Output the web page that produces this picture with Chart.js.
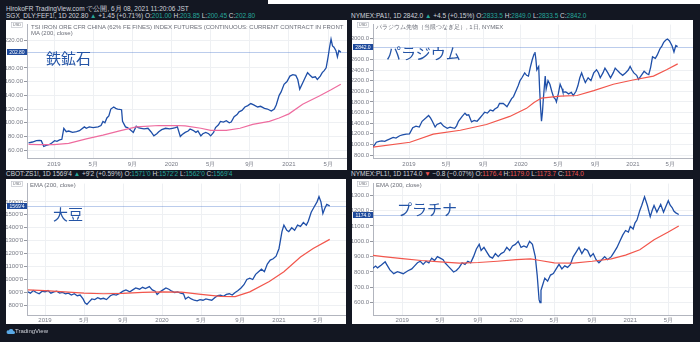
<!DOCTYPE html>
<html>
<head>
<meta charset="utf-8">
<script src="https://cdn.jsdelivr.net/npm/chart.js@4"></script>
<style>
body { margin: 0; width: 700px; height: 342px; overflow: hidden; position: relative; background: #131722; font-family: 'Liberation Sans', Arial, sans-serif; }
.hdr { position: absolute; color: #d1d4dc; font-size: 6.5px; line-height: 7px; white-space: nowrap; }
.up { color: #26a69a; }
.dn { color: #ef5350; }
.panel { position: absolute; background: #fff; overflow: hidden; }
.panel canvas { position: absolute; left: 0; top: 0; }
.leg { position: absolute; color: #6b6e78; font-size: 6px; line-height: 6px; white-space: nowrap; }
.big { position: absolute; color: #2454a6; font-size: 15px; line-height: 15px; font-family: 'Noto Sans CJK JP', sans-serif; white-space: nowrap; }
</style>
</head>
<body>
<div style="position:absolute;left:268px;top:0;width:432px;height:4px;background:#fff"></div>

<div class="hdr" style="left:6px;top:5px">HirokoFR TradingView.com で公開, 6月 08, 2021 11:20:06 JST</div>
<div class="hdr" style="left:6px;top:12px">SGX_DLY:FEF1!, 1D 202.80 <span class="up">▲</span> +1.45 (+0.71%) O:<span class="up">201.00</span> H:<span class="up">203.85</span> L:<span class="up">200.45</span> C:<span class="up">202.80</span></div>
<div class="hdr" style="left:351px;top:12px">NYMEX:PA1!, 1D 2842.0 <span class="up">▲</span> +4.5 (+0.15%) O:<span class="up">2833.5</span> H:<span class="up">2849.0</span> L:<span class="up">2833.5</span> C:<span class="up">2842.0</span></div>
<div class="hdr" style="left:6px;top:170px">CBOT:ZS1!, 1D 1569'4 <span class="up">▲</span> +9'2 (+0.59%) O:<span class="up">1571'0</span> H:<span class="up">1572'2</span> L:<span class="up">1562'0</span> C:<span class="up">1569'4</span></div>
<div class="hdr" style="left:351px;top:170px">NYMEX:PL1!, 1D 1174.0 <span class="dn">▼</span> −0.8 (−0.07%) O:<span class="dn">1176.4</span> H:<span class="dn">1179.0</span> L:<span class="dn">1173.7</span> C:<span class="dn">1174.0</span></div>

<div class="panel" style="left:6px;top:20px;width:341px;height:150px">
  <canvas id="ironChart" width="341" height="150"></canvas>
  <div class="leg" style="left:25px;top:4px">TSI IRON ORE CFR CHINA (62% FE FINES) INDEX FUTURES (CONTINUOUS: CURRENT CONTRACT IN FRONT</div>
  <div class="leg" style="left:25px;top:10px">MA (200, close)</div>
  <div class="big" style="left:40px;top:30px">鉄鉱石</div>
</div>
<div class="panel" style="left:352px;top:20px;width:341px;height:150px">
  <canvas id="pallChart" width="341" height="150"></canvas>
  <div class="leg" style="left:24px;top:4px">パラジウム先物（当限つなぎ足）, 1日, NYMEX</div>
  <div class="big" style="left:34px;top:25px">パラジウム</div>
</div>
<div class="panel" style="left:6px;top:179px;width:340px;height:145px">
  <canvas id="soyChart" width="340" height="145"></canvas>
  <div class="leg" style="left:24px;top:3px">EMA (200, close)</div>
  <div class="big" style="left:47px;top:27px">大豆</div>
</div>
<div class="panel" style="left:352px;top:179px;width:341px;height:145px">
  <canvas id="platChart" width="341" height="145"></canvas>
  <div class="leg" style="left:24px;top:3px">EMA (200, close)</div>
  <div class="big" style="left:45px;top:22px">プラチナ</div>
</div>

<div class="hdr" style="left:6px;top:328px;font-size:6px;line-height:7px">
  <svg width="9" height="6" viewBox="0 0 9 6" style="vertical-align:-1px"><path d="M2 6h5.5a1.5 1.5 0 0 0 0-3 2.5 2.5 0 0 0-4.7-.6A1.8 1.8 0 0 0 2 6z" fill="#5aa9e6"/></svg>TradingView
</div>

<script>
// x values are months counted from January 2019
const xTickMonths = [-4, 0, 4, 8, 12, 16, 20, 24, 28];
const xTickLabels = ['9月', '2019', '5月', '9月', '2020', '5月', '9月', '2021', '5月'];

// Iron ore (SGX FEF1!)
const ironX = [-2.6, -2.2, -1.8, -1.5, -1.3, -1.05, -0.8, -0.45, -0.2, 0.06, 0.3, 0.57, 0.8, 1.0, 1.25, 1.5, 1.9, 2.3, 2.6, 3.1, 3.3, 3.6, 4.0, 4.5, 4.8, 5.0, 5.2, 5.4, 5.6, 5.8, 6.1, 6.3, 6.5, 6.9, 7.0, 7.3, 7.5, 7.7, 8.1, 8.4, 8.6, 8.9, 9.2, 9.6, 9.9, 10.2, 10.5, 10.7, 11.0, 11.4, 11.8, 12.1, 12.4, 12.6, 12.9, 13.1, 13.4, 13.7, 13.9, 14.2, 14.5, 14.7, 15.0, 15.2, 15.5, 15.8, 16.0, 16.3, 16.5, 16.8, 17.0, 17.3, 17.6, 17.9, 18.1, 18.4, 18.7, 18.9, 19.2, 19.5, 19.8, 20.1, 20.4, 20.8, 21.1, 21.5, 21.8, 22.2, 22.5, 22.7, 23.0, 23.2, 23.5, 23.8, 24.1, 24.4, 24.7, 24.9, 25.1, 25.4, 25.6, 25.9, 26.1, 26.4, 26.7, 26.9, 27.2, 27.4, 27.6, 27.8, 28.0, 28.15, 28.3, 28.45, 28.6, 28.8, 28.95, 29.1, 29.2, 29.3];
const ironY = [70.8, 72, 74, 74.5, 74, 65.6, 67, 68.4, 71, 74, 73, 75, 76, 92, 87, 88, 86, 87, 88.5, 94, 92, 94, 93, 94, 96, 102, 100, 107, 110, 120, 123, 121, 120, 119, 102, 94, 93, 91, 86, 95, 93, 92, 91, 92, 87, 81, 84, 87, 90, 92, 91, 92, 93, 94, 80, 83, 86, 88, 91, 89, 86, 88, 81, 84, 86, 84, 81, 86, 93, 97, 102, 101, 103, 100, 101, 109, 112, 116, 118, 123, 125, 128, 126, 123, 124, 121, 120, 117, 120, 126, 140, 145, 156, 160, 168, 170, 169, 163, 149, 158, 164, 173, 170, 166, 167, 163, 168, 173, 176, 180, 196, 210, 222, 212, 210, 205, 196, 205, 204, 202.8];
const ironMaX = [-2.6, -1.5, 0, 1.5, 3.3, 5, 6.7, 8.4, 10.7, 12.5, 13.4, 15, 16, 17.6, 19, 20.3, 22, 23, 24, 25.4, 27.1, 28.3, 29.3];
const ironMaY = [68.4, 68.3, 68.2, 70, 76.5, 82, 88.3, 94, 96, 96, 95.5, 92, 89, 89, 92, 97.6, 102, 107, 113, 127, 139, 148, 156];
const ironTicks = [60, 80, 100, 120, 140, 160, 180, 220];

// Palladium (NYMEX PA1!)
const pallX = [-3.9, -3.7, -3.5, -3.2, -2.9, -2.6, -2.4, -2.1, -1.7, -1.4, -1.0, -0.7, -0.3, 0.05, 0.4, 0.75, 1.1, 1.4, 1.8, 2.1, 2.3, 2.5, 2.8, 3.0, 3.4, 3.7, 4.1, 4.4, 4.9, 5.1, 5.3, 5.7, 6.0, 6.2, 6.4, 6.7, 7.0, 7.3, 7.6, 7.9, 8.1, 8.4, 8.7, 9.0, 9.2, 9.5, 9.7, 10.1, 10.3, 10.5, 10.8, 11.0, 11.2, 11.4, 11.7, 11.9, 12.1, 12.4, 12.6, 12.8, 13.0, 13.2, 13.4, 13.5, 13.6, 13.7, 13.9, 14.0, 14.1, 14.2, 14.3, 14.4, 14.6, 14.7, 14.9, 15.1, 15.3, 15.5, 15.7, 15.8, 16.0, 16.2, 16.4, 16.5, 16.8, 17.1, 17.4, 17.6, 17.9, 18.1, 18.3, 18.5, 18.7, 18.9, 19.2, 19.5, 19.8, 20.1, 20.3, 20.5, 20.8, 21.0, 21.3, 21.6, 21.9, 22.1, 22.4, 22.6, 22.9, 23.2, 23.5, 23.7, 23.9, 24.1, 24.4, 24.6, 24.9, 25.2, 25.5, 25.7, 25.9, 26.1, 26.4, 26.6, 26.9, 27.1, 27.3, 27.5, 27.7, 27.9, 28.0, 28.2, 28.4, 28.6, 28.8];
const pallY = [951, 990, 1042, 1060, 1069, 1060, 1078, 1100, 1133, 1120, 1164, 1180, 1194, 1200, 1315, 1345, 1327, 1436, 1497, 1545, 1500, 1436, 1327, 1376, 1406, 1345, 1303, 1327, 1303, 1350, 1436, 1527, 1588, 1550, 1557, 1424, 1450, 1436, 1497, 1560, 1606, 1590, 1648, 1630, 1667, 1700, 1770, 1770, 1740, 1709, 1800, 1861, 1900, 1982, 2103, 2200, 2254, 2345, 2300, 2285, 2450, 2588, 2700, 2739, 2600, 2405, 2467, 2042, 1700, 1436, 1600, 1861, 2285, 2042, 2200, 2133, 2000, 1891, 1850, 1800, 1950, 2133, 2050, 1982, 1990, 1951, 1980, 1921, 2000, 2103, 2250, 2345, 2250, 2164, 2254, 2200, 2345, 2405, 2350, 2254, 2350, 2436, 2350, 2254, 2350, 2436, 2380, 2345, 2300, 2345, 2400, 2467, 2400, 2345, 2300, 2224, 2300, 2376, 2330, 2315, 2450, 2648, 2620, 2679, 2800, 2850, 2921, 2960, 2982, 2950, 2921, 2850, 2739, 2860, 2842];
const pallEmaX = [-3.9, 0.1, 2.6, 5.5, 8.3, 10.8, 12.6, 13.4, 14.2, 16.2, 18.0, 19.8, 21.9, 24.0, 26.2, 27.6, 28.8];
const pallEmaY = [951, 1042, 1194, 1267, 1376, 1527, 1679, 1790, 1873, 1909, 1921, 2012, 2133, 2212, 2285, 2405, 2515];
const pallTicks = [800, 1000, 1200, 1400, 1600, 1800, 2000, 2200, 2400, 2600, 3000];

// Soybeans (CBOT ZS1!)
const soyX = [-1.75, -1.5, -1.2, -0.9, -0.6, -0.3, 0.0, 0.3, 0.6, 0.9, 1.2, 1.5, 1.8, 2.1, 2.4, 2.7, 3.0, 3.3, 3.6, 3.9, 4.1, 4.3, 4.5, 4.8, 5.1, 5.4, 5.7, 6.0, 6.3, 6.7, 7.0, 7.3, 7.7, 8.0, 8.3, 8.7, 9.0, 9.3, 9.7, 10.0, 10.3, 10.7, 11.0, 11.3, 11.5, 11.8, 12.1, 12.4, 12.7, 13.0, 13.3, 13.6, 13.9, 14.2, 14.4, 14.7, 15.0, 15.3, 15.6, 15.9, 16.2, 16.5, 16.8, 17.1, 17.4, 17.7, 18.0, 18.3, 18.6, 18.9, 19.2, 19.5, 19.8, 20.1, 20.4, 20.7, 21.0, 21.3, 21.6, 21.9, 22.2, 22.5, 22.8, 23.1, 23.4, 23.7, 24.0, 24.3, 24.5, 24.8, 25.0, 25.3, 25.6, 25.9, 26.2, 26.5, 26.8, 27.0, 27.3, 27.6, 27.9, 28.1, 28.3, 28.5, 28.7, 28.9, 29.2];
const soyY = [905, 895, 915, 900, 890, 910, 905, 915, 895, 905, 910, 895, 900, 890, 895, 880, 890, 875, 880, 850, 820, 808, 825, 850, 845, 860, 850, 855, 845, 875, 885, 880, 895, 910, 920, 905, 920, 935, 925, 940, 930, 945, 920, 910, 885, 905, 920, 935, 925, 910, 900, 905, 895, 890, 850, 865, 850, 840, 835, 845, 840, 850, 845, 840, 860, 875, 880, 870, 885, 890, 880, 900, 915, 935, 960, 1000, 1010, 1000, 1040, 1060, 1080, 1060, 1120, 1150, 1160, 1180, 1240, 1370, 1420, 1380, 1370, 1400, 1380, 1420, 1410, 1440, 1420, 1450, 1520, 1560, 1600, 1640, 1600, 1510, 1550, 1580, 1569.5];
const soyEmaX = [-1.75, 0, 2, 4, 6, 8, 10, 12, 14, 16, 18, 19.5, 21, 23, 24.5, 26.2, 27.5, 29.2];
const soyEmaY = [920, 915, 905, 895, 890, 893, 900, 905, 902, 885, 870, 868, 905, 985, 1060, 1174, 1240, 1310];
const soyTicks = [800, 900, 1000, 1100, 1200, 1300, 1400, 1500, 1600];

// Platinum (NYMEX PL1!)
const platX = [-3.1, -2.8, -2.6, -2.2, -1.8, -1.6, -1.3, -0.9, -0.5, 0.1, 0.6, 1.0, 1.3, 1.6, 1.9, 2.2, 2.5, 2.8, 3.1, 3.4, 3.7, 4.0, 4.3, 4.5, 4.8, 5.1, 5.4, 5.7, 6.0, 6.3, 6.6, 6.9, 7.2, 7.5, 7.8, 8.1, 8.3, 8.6, 8.9, 9.2, 9.5, 9.8, 10.1, 10.4, 10.7, 11.0, 11.3, 11.6, 11.9, 12.2, 12.5, 12.8, 13.1, 13.4, 13.7, 14.0, 14.2, 14.4, 14.5, 14.6, 14.8, 15.0, 15.3, 15.6, 15.9, 16.2, 16.5, 16.8, 17.1, 17.4, 17.7, 18.0, 18.3, 18.6, 18.9, 19.2, 19.5, 19.8, 20.1, 20.4, 20.7, 21.0, 21.3, 21.6, 22.0, 22.3, 22.6, 22.9, 23.2, 23.5, 23.8, 24.0, 24.3, 24.5, 24.7, 25.0, 25.2, 25.5, 25.8, 26.1, 26.3, 26.5, 26.8, 27.0, 27.2, 27.5, 27.7, 28.0, 28.2, 28.4, 28.6, 28.8, 29.1];
const platY = [824, 839, 827, 845, 866, 845, 814, 789, 802, 789, 808, 820, 840, 860, 870, 850, 870, 860, 890, 875, 900, 890, 880, 860, 840, 820, 800, 810, 830, 860, 850, 870, 860, 900, 950, 980, 940, 960, 930, 900, 890, 920, 900, 920, 930, 960, 940, 970, 980, 1000, 960, 970, 960, 1000, 980, 900, 780, 620, 600, 680, 720, 760, 740, 780, 790, 820, 850, 820, 840, 830, 850, 900, 930, 960, 920, 950, 940, 900, 920, 880, 860, 880, 900, 880, 900, 930, 960, 1000, 1040, 1070, 1060, 1097, 1080, 1120, 1138, 1200, 1233, 1290, 1233, 1160, 1200, 1233, 1190, 1215, 1240, 1190, 1220, 1264, 1235, 1220, 1195, 1185, 1174];
const platEmaX = [-3.1, -2, 0, 2, 4, 6, 8, 10, 12, 13.5, 14.5, 16, 18, 20, 22, 23.5, 25, 26.5, 28, 29.1];
const platEmaY = [908, 900, 887, 875, 866, 858, 862, 870, 880, 885, 875, 860, 858, 870, 885, 910, 945, 1010, 1060, 1100];
const platTicks = [600, 700, 800, 900, 1000, 1100, 1200, 1300];

const priceColor = '#1f4fa8';

function pairs(xs, ys) {
    return xs.map((x, i) => ({ x: x, y: ys[i] }));
}

// last price line, price tag on the axis and the USD box
const lastPricePlugin = {
    id: 'lastPrice',
    beforeDatasetsDraw(chart, args, o) {
        const ctx = chart.ctx;
        const y = Math.round(chart.scales.y.getPixelForValue(o.last)) + 0.5;
        ctx.save();
        ctx.strokeStyle = 'rgba(60,110,200,0.35)';
        ctx.lineWidth = 1;
        ctx.beginPath();
        ctx.moveTo(chart.chartArea.left, y);
        ctx.lineTo(chart.chartArea.right, y);
        ctx.stroke();
        ctx.restore();
    },
    afterDraw(chart, args, o) {
        const ctx = chart.ctx;
        const ya = chart.scales.y;
        const y = Math.round(ya.getPixelForValue(o.last));
        ctx.save();
        ctx.fillStyle = '#1e4a9c';
        ctx.fillRect(1, y - 3, ya.right - 1, 6);
        ctx.fillStyle = '#ffffff';
        ctx.font = '5px "Liberation Sans", Arial, sans-serif';
        ctx.textAlign = 'center';
        ctx.textBaseline = 'middle';
        ctx.fillText(o.label, (ya.right + 1) / 2, y + 0.5);
        // USD box
        ctx.fillStyle = '#ffffff';
        ctx.fillRect(5, 2, 12, 6);
        ctx.strokeStyle = '#b8bbc4';
        ctx.lineWidth = 0.6;
        ctx.strokeRect(5.5, 2.5, 11, 5);
        ctx.fillStyle = '#6b6e78';
        ctx.font = '4px "Liberation Sans", Arial, sans-serif';
        ctx.fillText('USD', 11, 5.2);
        ctx.restore();
    }
};

function makeChart(id, cfg) {
    const ctx = document.getElementById(id).getContext('2d');
    return new Chart(ctx, {
        type: 'line',
        data: {
            datasets: [
                { data: pairs(cfg.maX, cfg.maY), borderColor: cfg.maColor, borderWidth: 1.2, pointRadius: 0, tension: 0 },
                { data: pairs(cfg.x, cfg.y), borderColor: priceColor, borderWidth: 1.3, pointRadius: 0, tension: 0 }
            ]
        },
        options: {
            responsive: false,
            animation: false,
            devicePixelRatio: 1,
            layout: { padding: 0 },
            plugins: {
                legend: { display: false },
                tooltip: { enabled: false },
                lastPrice: { last: cfg.last, label: cfg.lastLabel }
            },
            scales: {
                x: {
                    type: 'linear',
                    min: cfg.xMin,
                    max: cfg.xMax,
                    afterBuildTicks: (a) => {
                        a.ticks = xTickMonths.filter(v => v >= a.min && v <= a.max).map(v => ({ value: v }));
                    },
                    afterFit: (a) => { a.height = cfg.xAxisH; },
                    ticks: {
                        callback: (v) => xTickLabels[xTickMonths.indexOf(v)],
                        autoSkip: false,
                        maxRotation: 0,
                        padding: cfg.xPad,
                        color: '#787b86',
                        font: { size: 6 }
                    },
                    grid: { color: '#eef0f3', drawTicks: false },
                    border: { color: '#b2b5be' }
                },
                y: {
                    min: cfg.yMin,
                    max: cfg.yMax,
                    afterBuildTicks: (a) => { a.ticks = cfg.yTicks.map(v => ({ value: v })); },
                    afterFit: (a) => { a.width = 21; },
                    ticks: {
                        callback: (v) => cfg.fmt(v),
                        autoSkip: false,
                        padding: 1,
                        color: '#787b86',
                        font: { size: 6 }
                    },
                    grid: { color: '#eef0f3', tickColor: '#9598a1', tickLength: 3 },
                    border: { color: '#b2b5be' }
                }
            }
        },
        plugins: [lastPricePlugin]
    });
}

makeChart('ironChart', {
    x: ironX, y: ironY, maX: ironMaX, maY: ironMaY, maColor: '#ee6c9f',
    xMin: -2.76, xMax: 29.93, yMin: 48.7, yMax: 243, yTicks: ironTicks,
    xAxisH: 12, xPad: 3, fmt: (v) => v.toFixed(2), last: 202.8, lastLabel: '202.80'
});
makeChart('pallChart', {
    x: pallX, y: pallY, maX: pallEmaX, maY: pallEmaY, maColor: '#f2564c',
    xMin: -3.86, xMax: 30.44, yMin: 745.5, yMax: 3254, yTicks: pallTicks,
    xAxisH: 12, xPad: 3, fmt: (v) => v.toFixed(1), last: 2842, lastLabel: '2842.0'
});
makeChart('soyChart', {
    x: soyX, y: soyY, maX: soyEmaX, maY: soyEmaY, maColor: '#f2564c',
    xMin: -1.85, xMax: 30.87, yMin: 726, yMax: 1741, yTicks: soyTicks,
    xAxisH: 9, xPad: 2, fmt: (v) => v + "'0", last: 1569.5, lastLabel: "1569'4"
});
makeChart('platChart', {
    x: platX, y: platY, maX: platEmaX, maY: platEmaY, maColor: '#f2564c',
    xMin: -3.08, xMax: 30.6, yMin: 520, yMax: 1375.6, yTicks: platTicks,
    xAxisH: 9, xPad: 2, fmt: (v) => v.toFixed(1), last: 1174, lastLabel: '1174.0'
});
</script>
</body>
</html>
